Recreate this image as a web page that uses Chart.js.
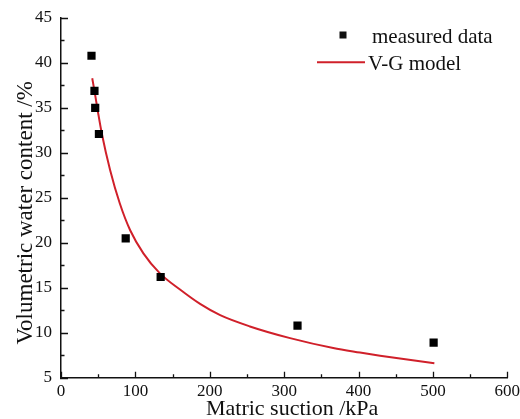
<!DOCTYPE html>
<html>
<head>
<meta charset="utf-8">
<script src="https://cdn.jsdelivr.net/npm/chart.js@4.4.0/dist/chart.umd.min.js"></script>
<style>
    html, body { margin: 0; padding: 0; background: #fff; }
    #wrap { width: 520px; height: 419px; }
</style>
</head>
<body>
<div id="wrap"><canvas id="myChart"></canvas></div>
<script>
// measured points (suction kPa / water content %)
const measuredSuction = [41, 45, 46, 51, 87, 134, 318, 501];
const measuredContent = [40.8, 36.9, 35.0, 32.1, 20.5, 16.2, 10.8, 8.9];

// fitted V-G curve
const modelSuction = [42, 46, 50, 55, 66, 79, 93, 111, 133, 160, 187, 214, 254, 308, 366, 402, 429, 502];
const modelContent = [38.3, 36.4, 34.4, 32.1, 28.1, 24.4, 21.4, 18.8, 16.6, 14.8, 13.2, 11.95, 10.7, 9.4, 8.3, 7.8, 7.45, 6.6];

const xTicks = [0, 100, 200, 300, 400, 500, 600];
const yTicks = [5, 10, 15, 20, 25, 30, 35, 40, 45];

const seriesNames = ['measured data', 'V-G model'];
const xTitle = 'Matric suction /kPa';
const yTitle = 'Volumetric water content /%';

const serif = '"Liberation Serif", "Times New Roman", serif';
const ink = '#111';
const red = '#d0202a';

Chart.defaults.font.family = serif;
Chart.defaults.color = ink;

// ticks pointing into the plot, with a minor tick between each pair of majors
const innerTicks = {
    id: 'innerTicks',
    afterDraw(chart) {
        const { ctx, chartArea: a, scales: { x, y } } = chart;
        ctx.save();
        ctx.strokeStyle = ink;
        ctx.lineWidth = 1.3;
        ctx.beginPath();
        xTicks.forEach((v, i) => {
            const px = Math.round(x.getPixelForValue(v)) + 0.5;
            ctx.moveTo(px, a.bottom);
            ctx.lineTo(px, a.bottom - 6);
            if (i < xTicks.length - 1) {
                const mx = Math.round(x.getPixelForValue((v + xTicks[i + 1]) / 2)) + 0.5;
                ctx.moveTo(mx, a.bottom);
                ctx.lineTo(mx, a.bottom - 3.5);
            }
        });
        yTicks.forEach((v, i) => {
            const py = Math.round(y.getPixelForValue(v)) + 0.5;
            ctx.moveTo(a.left - 1, py);
            ctx.lineTo(a.left + 7, py);
            if (i < yTicks.length - 1) {
                const my = Math.round(y.getPixelForValue((v + yTicks[i + 1]) / 2)) + 0.5;
                ctx.moveTo(a.left, my);
                ctx.lineTo(a.left + 3.5, my);
            }
        });
        ctx.stroke();
        ctx.restore();
    }
};

// axis titles, drawn a bit off-centre
const axisTitles = {
    id: 'axisTitles',
    afterDraw(chart) {
        const { ctx, chartArea: a } = chart;
        ctx.save();
        ctx.fillStyle = ink;
        ctx.textAlign = 'center';
        ctx.textBaseline = 'alphabetic';
        ctx.font = '22px ' + serif;
        ctx.fillText(xTitle, (a.left + a.right) / 2 + 8, 415);
        ctx.translate(32, (a.top + a.bottom) / 2 + 15);
        ctx.rotate(-Math.PI / 2);
        ctx.font = '23px ' + serif;
        ctx.fillText(yTitle, 0, 0);
        ctx.restore();
    }
};

// legend in the upper right corner of the plot
const cornerLegend = {
    id: 'cornerLegend',
    afterDraw(chart) {
        const ctx = chart.ctx;
        const [pts, fit] = chart.data.datasets;
        ctx.save();
        ctx.font = '21px ' + serif;
        ctx.fillStyle = ink;
        ctx.textBaseline = 'alphabetic';
        ctx.fillRect(339.5, 31.5, 7, 7);
        ctx.fillText(pts.label, 372, 42.7);
        ctx.strokeStyle = fit.borderColor;
        ctx.lineWidth = 2;
        ctx.beginPath();
        ctx.moveTo(317, 62.3);
        ctx.lineTo(365, 62.3);
        ctx.stroke();
        ctx.fillText(fit.label, 368, 70);
        ctx.restore();
    }
};

const ctx = document.getElementById('myChart');

new Chart(ctx, {
    type: 'scatter',
    data: {
        datasets: [
            {
                label: seriesNames[0],
                data: measuredSuction.map((s, i) => ({ x: s, y: measuredContent[i] })),
                pointStyle: 'rect',
                pointRadius: 5.8,
                backgroundColor: '#000',
                borderColor: '#000',
                borderWidth: 0,
                showLine: false
            },
            {
                label: seriesNames[1],
                data: modelSuction.map((s, i) => ({ x: s, y: modelContent[i] })),
                showLine: true,
                pointRadius: 0,
                borderColor: red,
                borderWidth: 2,
                cubicInterpolationMode: 'monotone'
            }
        ]
    },
    options: {
        responsive: true,
        maintainAspectRatio: false,
        animation: false,
        layout: {
            padding: { left: 26, top: 18, right: 0, bottom: 13.3 }
        },
        scales: {
            x: {
                type: 'linear',
                min: xTicks[0],
                max: xTicks[xTicks.length - 1],
                afterBuildTicks: (scale) => { scale.ticks = xTicks.map(v => ({ value: v })); },
                grid: { drawOnChartArea: false, drawTicks: false },
                border: { display: true, color: ink, width: 1.5 },
                ticks: { padding: 0, font: { family: serif, size: 17, lineHeight: '28px' }, color: ink, maxRotation: 0 }
            },
            y: {
                type: 'linear',
                min: yTicks[0],
                max: yTicks[yTicks.length - 1],
                afterBuildTicks: (scale) => { scale.ticks = yTicks.map(v => ({ value: v })); },
                grid: { drawOnChartArea: false, drawTicks: false },
                border: { display: true, color: ink, width: 1.5 },
                ticks: { padding: 9, font: { family: serif, size: 17, lineHeight: 1 }, color: ink }
            }
        },
        plugins: {
            legend: { display: false },
            tooltip: { enabled: false }
        }
    },
    plugins: [innerTicks, axisTitles, cornerLegend]
});
</script>
</body>
</html>
